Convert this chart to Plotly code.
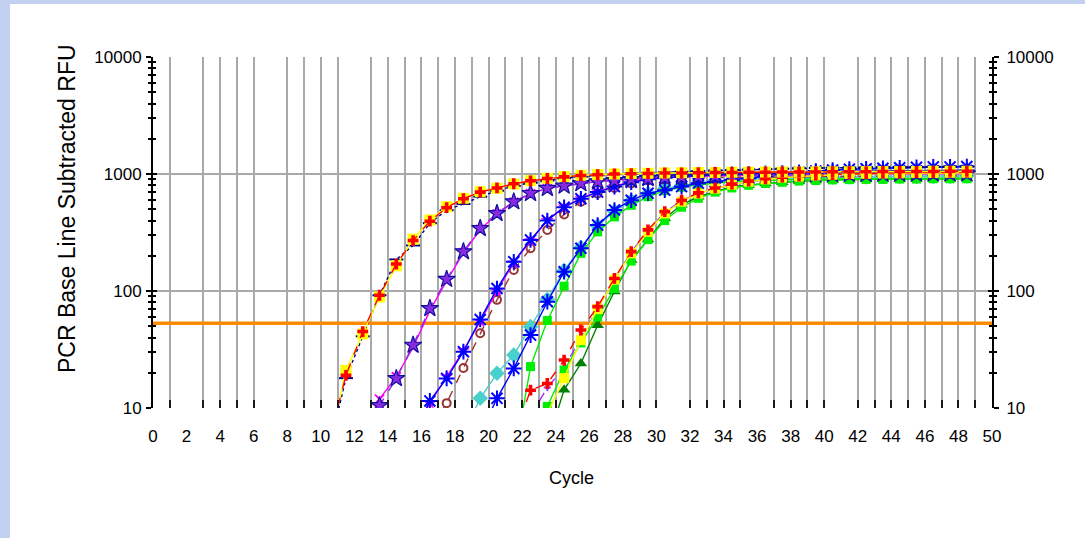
import plotly.graph_objects as go

# Baseline-subtracted fluorescence (RFU) per cycle for each well.
# Each series starts at the cycle given in its *_start value and runs to cycle 49.
a_yellow_start = 11
a_yellow = [4.7, 21, 43, 89, 164, 277, 404, 525, 620, 706, 755, 822, 877, 919, 950, 975, 990, 1000,
            1010, 1015, 1020, 1025, 1030, 1030, 1035, 1035, 1040, 1040, 1040, 1045, 1045, 1045,
            1050, 1050, 1050, 1050, 1055, 1055, 1055]
a_red_start = 11
a_red = [5.2, 19, 45, 92, 170, 270, 395, 515, 615, 700, 760, 825, 875, 915, 945, 970, 985, 1000,
         1005, 1010, 1020, 1020, 1025, 1030, 1030, 1035, 1035, 1040, 1040, 1040, 1045, 1045,
         1045, 1050, 1050, 1050, 1050, 1055, 1055]
a_navy_start = 11
a_navy = [4.4, 18, 41, 92, 186, 245, 380, 490, 555, 640, 720, 790, 840, 880, 920, 950, 975, 995,
          1010, 1025, 1035, 1045, 1060, 1070, 1080, 1090, 1100, 1110, 1120, 1125, 1130, 1135,
          1140, 1145, 1150, 1150, 1155, 1160, 1160]
b_purple_start = 13
b_purple = [5.5, 10.5, 17.9, 34.5, 71, 126, 217, 343, 461, 580, 684, 755, 790, 830, 860, 880, 900,
            915, 930, 940, 950, 960, 965, 970, 975, 980, 985, 990, 990, 995, 995, 1000, 1000,
            1000, 1005, 1005, 1005]
b_magenta_start = 13
b_magenta = [6, 11.9, 18.5, 33, 68, 122, 212, 335, 455, 575, 680, 750, 795, 835, 865, 890, 905,
             920, 935, 945, 955, 960, 970, 975, 980, 985, 985, 990, 995, 995, 1000, 1000, 1005,
             1005, 1005, 1010, 1010]
c_blue_start = 16
c_blue = [5.5, 11.5, 17.9, 30.3, 57, 105, 178, 273, 400, 520, 615, 700, 780, 850, 900, 930, 950,
          970, 985, 995, 1005, 1015, 1020, 1030, 1035, 1040, 1045, 1050, 1055, 1060, 1060, 1065,
          1065, 1070]
c_magenta_start = 16
c_magenta = [6, 11, 18.5, 31, 55, 100, 175, 270, 404, 525, 620, 706, 788, 861, 919, 950, 965, 980,
             990, 1000, 1005, 1010, 1015, 1020, 1025, 1030, 1030, 1035, 1035, 1040, 1040, 1045,
             1045, 1045]
c_brown_start = 17
c_brown = [6.5, 11, 22, 43.5, 84, 151, 232, 332, 450, 580, 680, 760, 830, 880, 900, 915, 925, 930,
           935, 940, 945, 945, 950, 950, 950, 955, 955, 955, 960, 960, 960, 960, 965]
d_cyan_start = 19
d_cyan = [6, 12.1, 19.8, 28.4, 49.6, 85, 150, 235, 360, 480, 590, 680, 750, 800, 840, 870, 890,
          905, 915, 925, 930, 935, 940, 945, 945, 950, 950, 955, 955, 955, 960]
d_blue_start = 20
d_blue = [6, 12.1, 21.8, 42, 81, 146, 232, 366, 493, 597, 684, 728, 780, 834, 860, 890, 920, 960,
          1000, 1030, 1060, 1080, 1100, 1110, 1120, 1130, 1140, 1150, 1150, 1160]
d_green_start = 22
d_green = [3.5, 22.6, 56, 110, 210, 320, 430, 540, 640, 720, 770, 810, 840, 860, 875, 885, 895,
           900, 905, 905, 910, 910, 910, 915, 915, 915, 920, 920]
e_red_start = 22
e_red = [5.8, 14.2, 16.2, 25.7, 46.4, 73.5, 128, 217, 333, 476, 597, 690, 760, 820, 870, 910, 940,
         960, 980, 990, 1000, 1010, 1020, 1020, 1030, 1030, 1040, 1040]
e_yellow_start = 24
e_yellow = [9, 18, 38, 70, 125, 210, 320, 460, 580, 680, 750, 810, 860, 900, 930, 950, 970, 985,
            1000, 1005, 1010, 1015, 1020, 1020, 1025, 1025]
e_green_start = 24
e_green = [10.3, 21.1, 36, 60, 105, 180, 275, 400, 520, 620, 700, 760, 800, 830, 850, 870, 880,
           890, 895, 900, 900, 905, 905, 910, 910, 910]
e_darkgreen_start = 24
e_darkgreen = [5, 14.3, 24, 51, 99, 184, 275, 418, 546, 639, 706, 780, 805, 830, 850, 865, 880,
               890, 895, 900, 905, 905, 910, 910, 910, 915]
e_purple_start = 23
e_purple = [8.5, 15, 22, 40, 70, 125, 215, 330, 470, 590, 680, 750, 810, 860, 900, 930, 960, 980,
            1000, 1020, 1030, 1040, 1050, 1060, 1065, 1070, 1075]

threshold_rfu = 53

x_tick_labels = list(range(0, 51, 2))
# cycles that carry a vertical grid line
grid_cycles = [1, 3, 4, 5, 6, 8, 9, 10, 11, 13, 14, 15, 16, 17, 18, 19, 20, 21, 22, 23, 24, 25,
               26, 27, 28, 29, 30, 32, 33, 34, 35, 37, 38, 39, 40, 42, 43, 44, 45, 46, 47, 48, 49]
y_major = [10, 100, 1000, 10000]
y_grid = [100, 1000]
y_minor = [m * d for d in (10, 100, 1000) for m in range(2, 10)]

fig = go.Figure()

# threshold line (drawn first so the curves sit on top)
fig.add_trace(go.Scatter(x=[0, 50], y=[threshold_rfu, threshold_rfu], mode="lines",
                         line=dict(color="#ff8c00", width=3.5), hoverinfo="skip"))


def add_well(values, start, color, symbol, size, mcolor=None, mline=None, dash="solid",
             lwidth=1.4, open_marker=False):
    # readings are drawn at the middle of their cycle interval
    xs = [start + i - 0.5 for i in range(len(values))]
    marker = dict(symbol=symbol, size=size, color=mcolor or color)
    if open_marker:
        marker["line"] = dict(color=mcolor or color, width=2)
    elif mline:
        marker["line"] = dict(color=mline, width=1.2)
    else:
        marker["line"] = dict(width=0)
    fig.add_trace(go.Scatter(x=xs, y=values, mode="lines+markers",
                             line=dict(color=color, width=lwidth, dash=dash),
                             marker=marker, hoverinfo="skip"))


add_well(d_cyan, d_cyan_start, "#48d1cc", "diamond", 12)
add_well(c_brown, c_brown_start, "#993333", "circle-open", 8, dash="dash", open_marker=True)
add_well(b_magenta, b_magenta_start, "#ff00ff", "x-thin-open", 9, open_marker=True)
add_well(c_magenta, c_magenta_start, "#ff00ff", "star", 10)
add_well(e_purple, e_purple_start, "#9933ff", "cross-thin-open", 5, dash="dash", open_marker=True)
add_well(e_darkgreen, e_darkgreen_start, "#008000", "triangle-up", 11)
add_well(e_green, e_green_start, "#00ee00", "square", 9)
add_well(d_green, d_green_start, "#00ee00", "square", 9)
add_well(d_blue, d_blue_start, "#0000ff", "asterisk-open", 13, open_marker=True)
add_well(c_blue, c_blue_start, "#0000ff", "asterisk-open", 13, open_marker=True)
add_well(b_purple, b_purple_start, "#8a2be2", "star", 13, mline="#1010a0", dash="dash")
add_well(e_yellow, e_yellow_start, "#ffff00", "square", 10)
add_well(e_red, e_red_start, "#ff0000", "cross", 9, dash="dash")
add_well(a_navy, a_navy_start, "#000080", "line-ew-open", 10, dash="dot", open_marker=True)
add_well(a_yellow, a_yellow_start, "#ffff00", "square", 11)
add_well(a_red, a_red_start, "#ff0000", "cross", 9, dash="dash")

# empty traces so that the overlaid axes (labels, right-hand scale, grid) are rendered
for xa, ya in (("x2", "y"), ("x", "y2"), ("x", "y3"), ("x", "y4")):
    fig.add_trace(go.Scatter(x=[None], y=[None], xaxis=xa, yaxis=ya, mode="lines",
                             hoverinfo="skip"))

tick_font = dict(family="Liberation Sans, Arial, sans-serif", size=17, color="#000000")
grid_gray = "#a9a9a9"

fig.update_layout(
    width=1085, height=538,
    margin=dict(l=153, r=93, t=57, b=130),
    paper_bgcolor="#c2d0f0",
    plot_bgcolor="#ffffff",
    showlegend=False,
    xaxis=dict(range=[0, 50], tickmode="array", tickvals=grid_cycles, ticks="inside",
               ticklen=8, tickwidth=2, tickcolor="#1a1a1a", showticklabels=False,
               showgrid=True, gridcolor=grid_gray, gridwidth=2, zeroline=False,
               showline=False, fixedrange=True),
    xaxis2=dict(range=[0, 50], overlaying="x", anchor="y", side="bottom", tickmode="array",
                tickvals=x_tick_labels, ticks="", showgrid=False, zeroline=False,
                showline=False, tickfont=dict(family="Liberation Sans Narrow, Arial Narrow, sans-serif",
                                              size=17, color="#000000"),
                ticklabelstandoff=16),
    yaxis=dict(type="log", range=[1, 4], tickmode="array", tickvals=y_major,
               ticktext=[str(v) for v in y_major], ticks="outside", ticklen=5, tickwidth=1.5,
               tickcolor="#000000", showline=True, linecolor="#000000", linewidth=2,
               showgrid=False, zeroline=False, tickfont=tick_font, ticklabelstandoff=1,
               minor=dict(tickmode="array", tickvals=y_minor, ticks="outside", ticklen=3,
                          tickwidth=1.5, tickcolor="#000000", showgrid=False)),
    yaxis2=dict(type="log", range=[1, 4], overlaying="y", side="right", anchor="x",
                tickmode="array", tickvals=y_major, ticktext=[str(v) for v in y_major],
                ticks="outside", ticklen=5, tickwidth=1.5, tickcolor="#000000",
                showline=True, linecolor="#000000", linewidth=2, showgrid=False,
                zeroline=False, tickfont=tick_font, ticklabelstandoff=4,
                minor=dict(tickmode="array", tickvals=y_minor, ticks="outside", ticklen=3,
                           tickwidth=1.5, tickcolor="#000000", showgrid=False)),
    yaxis3=dict(type="log", range=[1, 4], overlaying="y", side="left", anchor="x",
                tickmode="array", tickvals=y_grid, ticks="inside", ticklen=4, tickwidth=1.5,
                tickcolor="#000000", showticklabels=False, showgrid=True,
                gridcolor=grid_gray, gridwidth=2, zeroline=False, showline=False,
                minor=dict(tickmode="array", tickvals=y_minor, ticks="inside", ticklen=3,
                           tickwidth=1.5, tickcolor="#000000", showgrid=False)),
    yaxis4=dict(type="log", range=[1, 4], overlaying="y", side="right", anchor="x",
                tickmode="array", tickvals=y_major, ticks="inside", ticklen=4, tickwidth=1.5,
                tickcolor="#000000", showticklabels=False, showgrid=False, zeroline=False,
                showline=False,
                minor=dict(tickmode="array", tickvals=y_minor, ticks="inside", ticklen=3,
                           tickwidth=1.5, tickcolor="#000000", showgrid=False)),
    shapes=[
        # white page panel over the blue backdrop
        dict(type="rect", xref="paper", yref="paper", x0=-0.1704, x1=1.2, y0=-0.40, y1=1.151,
             fillcolor="#ffffff", line=dict(width=0), layer="below"),
    ],
    annotations=[
        dict(text="PCR Base Line Subtracted RFU", xref="paper", yref="paper", x=-0.1025,
             y=0.567, showarrow=False, textangle=-90, xanchor="center", yanchor="middle",
             font=dict(family="Liberation Sans, Arial, sans-serif", size=23, color="#000000")),
        dict(text="Cycle", xref="paper", yref="paper", x=0.4994, y=-0.1994, showarrow=False,
             xanchor="center", yanchor="middle",
             font=dict(family="Liberation Sans, Arial, sans-serif", size=18, color="#000000")),
    ],
)

fig.write_html("out.html")
